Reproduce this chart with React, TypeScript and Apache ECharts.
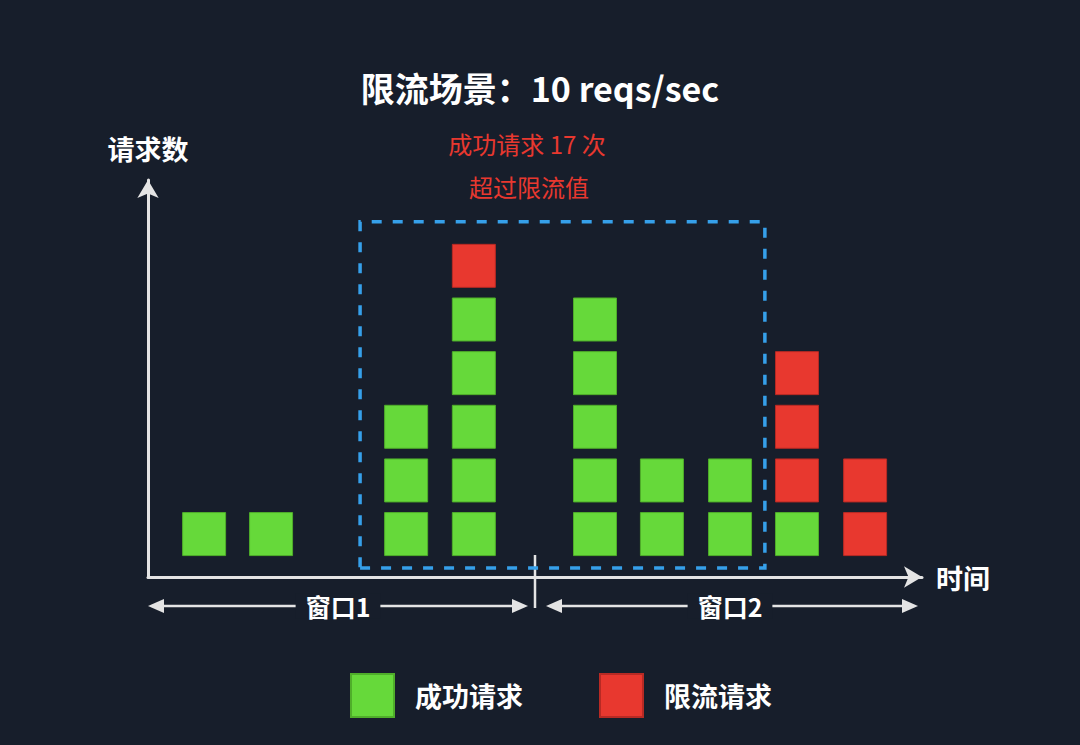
import React, { useEffect, useRef } from "react";
import * as echarts from "echarts";

// time of each request slot (ms) within two 1-second windows
const slotTimes = [145, 318, 667, 842, 1155, 1328, 1504, 1677, 1853];
// successful requests per slot
const passedCounts = [1, 1, 3, 5, 5, 2, 2, 1, 0];
// rate-limited requests per slot
const limitedCounts = [0, 0, 0, 1, 0, 0, 0, 3, 2];
// sliding window highlighted (ms range, count range)
const windowBoxX = [548, 1594];
const windowBoxY = [0.37, 6.82];

const seriesNames = ["成功请求", "限流请求"];
const titleText = "限流场景：10 reqs/sec";
const noteLines = ["成功请求 17 次", "超过限流值"];
const windowLabels = ["窗口1", "窗口2"];

const BG = "#171e2b";
const GREEN = "#66d93a";
const RED = "#e8382f";
const AXIS = "#e4e4e4";
const FONT = "'Noto Sans CJK SC', 'Noto Sans', sans-serif";

function arrowGroup(x1: number, x2: number, y: number, label: string, labelX: number) {
  const c = AXIS;
  return [
    { type: "line", shape: { x1: x1 + 12, y1: y, x2: x2 - 12, y2: y }, style: { stroke: c, lineWidth: 2.5 } },
    { type: "polygon", shape: { points: [[x1, y], [x1 + 16, y - 7], [x1 + 16, y + 7]] }, style: { fill: c } },
    { type: "polygon", shape: { points: [[x2, y], [x2 - 16, y - 7], [x2 - 16, y + 7]] }, style: { fill: c } },
    {
      type: "text",
      x: labelX,
      y: y,
      style: {
        text: label,
        fill: "#ffffff",
        font: `bold 25px ${FONT}`,
        align: "center",
        verticalAlign: "middle",
        backgroundColor: BG,
        padding: [0, 10],
      },
    },
  ];
}

export default function App() {
  const ref = useRef<HTMLDivElement>(null);

  useEffect(() => {
    document.body.style.margin = "0";
    document.body.style.background = BG;
    if (!ref.current) return;
    const chart = echarts.init(ref.current, undefined, { renderer: "svg" });

    const passedPts: number[][] = [];
    const limitedPts: number[][] = [];
    slotTimes.forEach((t, i) => {
      for (let k = 1; k <= passedCounts[i]; k++) passedPts.push([t, k]);
      for (let k = 1; k <= limitedCounts[i]; k++) limitedPts.push([t, passedCounts[i] + k]);
    });

    chart.setOption({
      animation: false,
      backgroundColor: BG,
      textStyle: { fontFamily: FONT },
      title: {
        text: titleText,
        left: "center",
        top: 65,
        textStyle: { color: "#ffffff", fontSize: 34, fontWeight: "bold", fontFamily: FONT },
      },
      legend: {
        left: 350,
        top: 673,
        padding: 0,
        itemWidth: 43,
        itemHeight: 43,
        itemGap: 76,
        icon: "rect",
        data: seriesNames,
        textStyle: { color: "#ffffff", fontSize: 27, fontWeight: "bold", fontFamily: FONT, padding: [0, 0, 0, 16] },
      },
      grid: { left: 148, right: 158, top: 180, bottom: 168, containLabel: false },
      xAxis: {
        type: "value",
        min: 0,
        max: 2000,
        name: "时间",
        nameLocation: "end",
        nameGap: 14,
        nameTextStyle: { color: "#ffffff", fontSize: 27, fontWeight: "bold", fontFamily: FONT },
        axisLine: { show: true, lineStyle: { color: AXIS, width: 3 }, symbol: ["none", "arrow"], symbolSize: [16, 18], onZero: false },
        axisTick: { show: false },
        axisLabel: { show: false },
        splitLine: { show: false },
      },
      yAxis: {
        type: "value",
        min: 0.2,
        max: 7.6,
        name: "请求数",
        nameLocation: "end",
        nameGap: 18,
        nameTextStyle: { color: "#ffffff", fontSize: 27, fontWeight: "bold", fontFamily: FONT },
        axisLine: { show: true, lineStyle: { color: AXIS, width: 3 }, symbol: ["none", "arrow"], symbolSize: [16, 18], onZero: false },
        axisTick: { show: false },
        axisLabel: { show: false },
        splitLine: { show: false },
      },
      series: [
        {
          name: seriesNames[0],
          type: "scatter",
          symbol: "rect",
          symbolSize: 43,
          data: passedPts,
          itemStyle: { color: GREEN, borderColor: "#4fae2a", borderWidth: 1, opacity: 1 },
          markArea: {
            silent: true,
            itemStyle: { color: "rgba(0,0,0,0)", borderColor: "#36a0ea", borderWidth: 3.5, borderType: [10, 11] },
            data: [[{ coord: [windowBoxX[0], windowBoxY[0]] }, { coord: [windowBoxX[1], windowBoxY[1]] }]],
          },
          z: 3,
        },
        {
          name: seriesNames[1],
          type: "scatter",
          symbol: "rect",
          symbolSize: 43,
          data: limitedPts,
          itemStyle: { color: RED, borderColor: "#b82a24", borderWidth: 1, opacity: 1 },
          z: 3,
        },
      ],
      graphic: [
        {
          type: "text",
          x: 527,
          y: 143,
          style: { text: noteLines[0], fill: RED, font: `24px ${FONT}`, align: "center", verticalAlign: "middle" },
        },
        {
          type: "text",
          x: 529,
          y: 186,
          style: { text: noteLines[1], fill: RED, font: `24px ${FONT}`, align: "center", verticalAlign: "middle" },
        },
        { type: "line", shape: { x1: 535, y1: 555, x2: 535, y2: 608 }, style: { stroke: AXIS, lineWidth: 2.5 } },
        ...arrowGroup(148, 528, 606, windowLabels[0], 338),
        ...arrowGroup(546, 918, 606, windowLabels[1], 730),
      ],
    });

    return () => chart.dispose();
  }, []);

  return <div ref={ref} style={{ width: 1080, height: 745 }} />;
}
